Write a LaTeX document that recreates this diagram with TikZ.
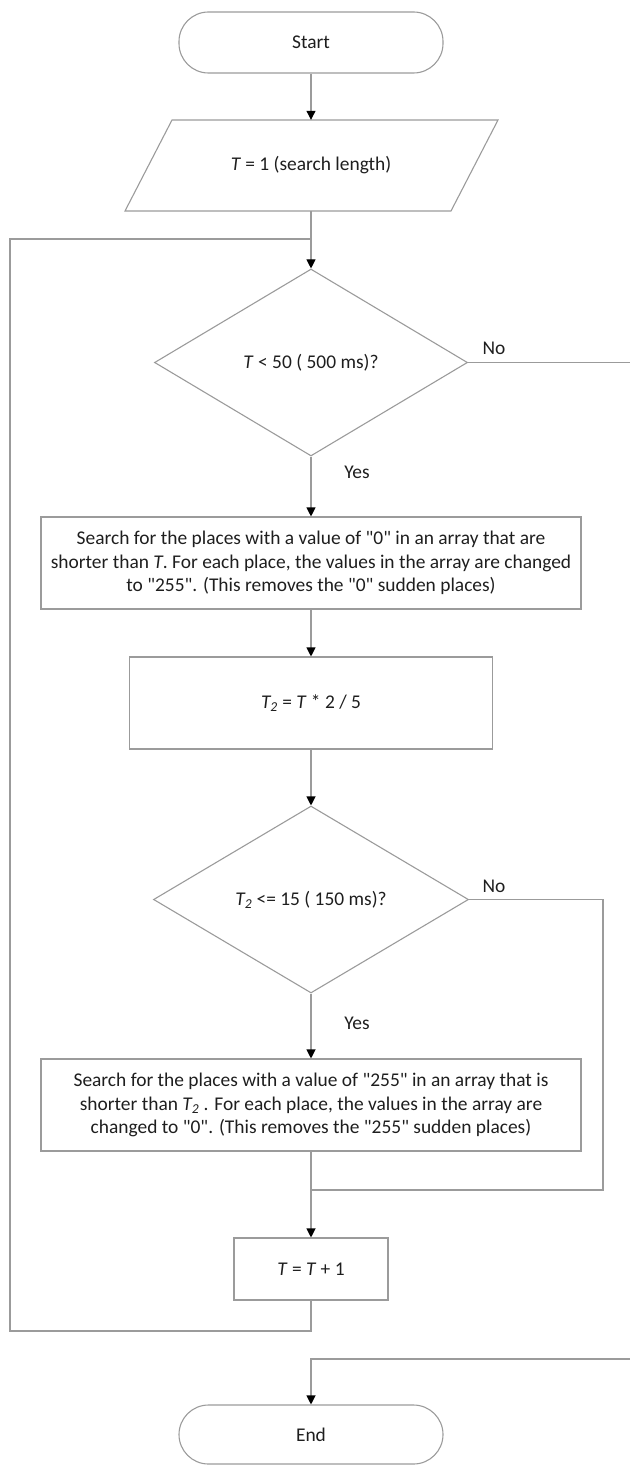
\documentclass[tikz,border=0pt]{standalone}
\usepackage{fontspec}
\setmainfont{Carlito}
\usetikzlibrary{shapes.geometric,arrows.meta}
\definecolor{linegray}{RGB}{155,155,155}
\definecolor{txt}{RGB}{30,30,30}
\newcommand{\dq}{\XeTeXglyph\XeTeXcharglyph"22\relax}
\begin{document}
\begin{tikzpicture}[x=1bp,y=-1bp,
  every node/.style={font=\fontsize{19.5}{23.5}\selectfont, text=txt},
  shapeline/.style={draw=linegray, line width=1.1bp},
  box/.style={shapeline, inner sep=0pt, align=center},
  term/.style={box, rounded corners=29.5bp},
  dec/.style={box, diamond, aspect=1.67},
  conn/.style={draw=linegray, line width=1.1bp},
  arr/.style={conn, -{Triangle[width=9bp,length=9bp,color=black]}},
  lbl/.style={inner sep=0pt}
]
\useasboundingbox (0,0) rectangle (630,1465);

% nodes
\node[term, minimum width=264bp, minimum height=61bp] (start) at (311,42.5) {Start};
\node[inner sep=0pt, minimum width=326bp, minimum height=91bp] (inp) at (311,165.5) {\textit{T} = 1 (search length)};
\draw[shapeline] (125,211) -- (172,120) -- (498,120) -- (451,211) -- cycle;
\node[dec, minimum width=313bp, minimum height=187bp] (d1) at (311,362.5) {\textit{T} < 50 ( 500 ms)?};
\node[box, minimum width=540bp, minimum height=92bp] (b1) at (311,563) {Search for the places with a value of \dq0\dq{} in an array that are\\shorter than \textit{T}. For each place, the values in the array are changed\\to \dq255\dq. (This removes the \dq0\dq{} sudden places)};
\node[box, minimum width=363bp, minimum height=92bp] (b2) at (311,703) {\textit{T\textsubscript{2}} = \textit{T} * 2 / 5};
\node[dec, minimum width=315bp, minimum height=187bp] (d2) at (311,899.5) {\textit{T\textsubscript{2}} <= 15 ( 150 ms)?};
\node[box, minimum width=540bp, minimum height=92bp] (b3) at (311,1105) {Search for the places with a value of \dq255\dq{} in an array that is\\shorter than \textit{T\textsubscript{2}} . For each place, the values in the array are\\changed to \dq0\dq. (This removes the \dq255\dq{} sudden places)};
\node[box, minimum width=154bp, minimum height=62bp] (inc) at (311,1269) {\textit{T} = \textit{T} + 1};
\node[term, minimum width=264bp, minimum height=59bp] (end) at (311,1434.5) {End};

% labels
\node[lbl] (no1) at (494,348) {No};
\node[lbl] (yes1) at (357,472) {Yes};
\node[lbl] (no2) at (494,886) {No};
\node[lbl] (yes2) at (357,1023) {Yes};

% coordinates
\coordinate (j1) at (311,239);
\coordinate (lt) at (10,239);
\coordinate (lb) at (10,1331);
\coordinate (off1) at (630,362.5);
\coordinate (off2) at (630,1359);
\coordinate (r2) at (603,1190);
\coordinate (m2) at (311,1190);

% connectors
\draw[arr] (start.south) -- (inp.north);
\draw[arr] (inp.south) -- (d1.north);
\draw[conn] (inc.south) |- (lb) -- (lt) -- (j1);
\draw[conn] (d1.east) -- (off1);
\draw[arr] (d1.south) -- (b1.north);
\draw[arr] (b1.south) -- (b2.north);
\draw[arr] (b2.south) -- (d2.north);
\draw[arr] (d2.south) -- (b3.north);
\draw[conn] (d2.east) -| (r2) -- (m2);
\draw[arr] (b3.south) -- (inc.north);
\draw[arr] (off2) -| (end.north);
\end{tikzpicture}
\end{document}
